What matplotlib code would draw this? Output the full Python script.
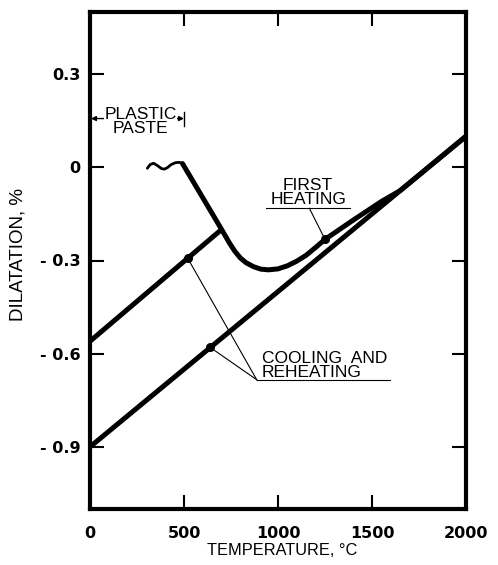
import matplotlib
matplotlib.use("Agg")
import matplotlib.pyplot as plt

plt.rcParams['font.family'] = ['Liberation Sans', 'DejaVu Sans']

# Wavy start of the first heating curve (plastic paste region).
wave_t = [305, 320, 339, 360, 380, 395, 412, 432, 455, 475, 492]
wave_d = [-0.003, 0.009, 0.013, 0.005, -0.004, -0.006, -0.001, 0.009, 0.015, 0.016, 0.012]

# First heating curve.
heat_t = [492, 700, 740, 770, 800, 830, 870, 910, 950, 1000, 1050, 1100, 1150, 1200,
          1250, 1400, 1550, 1650, 2000]
heat_d = [0.012, -0.20, -0.242, -0.270, -0.292, -0.307, -0.320, -0.328, -0.330, -0.327,
          -0.317, -0.302, -0.283, -0.258, -0.232, -0.170, -0.110, -0.075, 0.10]

# Cooling and reheating lines.
upper_t = [0, 700]
upper_d = [-0.56, -0.20]
lower_t = [0, 2000]
lower_d = [-0.90, 0.10]

# Marker dots where the leader lines touch.
cool_dot_t = [520, 640]
cool_dot_d = [-0.293, -0.58]
heat_dot_t = [1250]
heat_dot_d = [-0.232]

xticks = [0, 500, 1000, 1500, 2000]
yticks = [0.3, 0, -0.3, -0.6, -0.9]
ytick_labels = ['0.3', '0', '- 0.3', '- 0.6', '- 0.9']

fig = plt.figure(figsize=(4.98, 5.65), dpi=100)
ax = fig.add_axes([90 / 498, 56 / 565, 376 / 498, 497 / 565])

thick = 3.6
ax.plot(wave_t, wave_d, color='black', lw=2.0, solid_capstyle='round')
ax.plot(heat_t, heat_d, color='black', lw=thick, solid_joinstyle='round',
        solid_capstyle='round')
ax.plot(upper_t, upper_d, color='black', lw=thick, solid_capstyle='butt')
ax.plot(lower_t, lower_d, color='black', lw=thick, solid_capstyle='butt')
ax.plot(cool_dot_t, cool_dot_d, 'o', color='black', ms=5.5)
ax.plot(heat_dot_t, heat_dot_d, 'o', color='black', ms=5.5)

label_size = 12.5
spacing = 0.9
# Plastic paste range arrow
ax.annotate('', xy=(5, 0.157), xytext=(500, 0.157),
            arrowprops=dict(arrowstyle='<|-|>', lw=1.0, color='black',
                            mutation_scale=7, shrinkA=0, shrinkB=0))
ax.plot([500, 500], [0.134, 0.177], color='black', lw=1.0)
ax.text(269, 0.148, 'PLASTIC\nPASTE', ha='center', va='center', fontsize=label_size,
        linespacing=spacing, bbox=dict(facecolor='white', edgecolor='none', pad=0.3))

# First heating label
ax.text(1160, -0.082, 'FIRST\nHEATING', ha='center', va='center', fontsize=label_size,
        linespacing=spacing)
ax.plot([935, 1382], [-0.132, -0.132], color='black', lw=0.8)
ax.plot([1167, 1250], [-0.132, -0.232], color='black', lw=0.8)

# Cooling and reheating label
ax.text(915, -0.637, 'COOLING  AND\nREHEATING', ha='left', va='center',
        fontsize=label_size, linespacing=spacing)
ax.plot([887, 1597], [-0.684, -0.684], color='black', lw=0.8)
ax.plot([887, cool_dot_t[0]], [-0.684, cool_dot_d[0]], color='black', lw=0.8)
ax.plot([887, cool_dot_t[1]], [-0.684, cool_dot_d[1]], color='black', lw=0.8)

ax.set_xlim(0, 2000)
ax.set_ylim(-1.1, 0.5)
ax.set_xticks(xticks)
ax.set_yticks(yticks)
ax.set_yticklabels(ytick_labels)
ax.tick_params(direction='in', length=10, width=1.5, top=True, right=True)
ax.tick_params(axis='x', pad=12)
ax.tick_params(axis='y', pad=7)
for lab in ax.get_xticklabels() + ax.get_yticklabels():
    lab.set_fontfamily('DejaVu Sans')
    lab.set_fontweight('bold')
    lab.set_fontsize(11.5)
for sp in ax.spines.values():
    sp.set_linewidth(3)

ax.set_xlabel('TEMPERATURE, °C', fontsize=11.8)
ax.xaxis.set_label_coords(0.51, -0.068)
ax.set_ylabel('DILATATION, %', fontsize=13.5)
ax.yaxis.set_label_coords(-0.170, 0.513)

fig.savefig('out.png', dpi=100)
